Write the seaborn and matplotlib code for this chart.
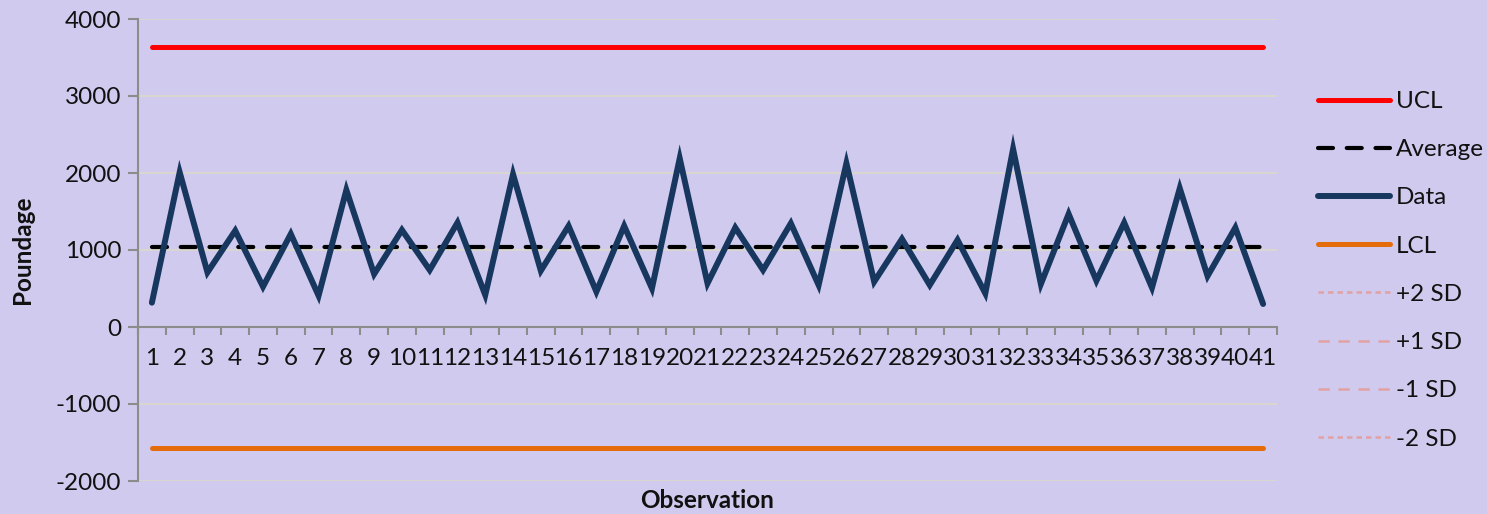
import numpy as np
import pandas as pd
import matplotlib
matplotlib.use("Agg")
import matplotlib.pyplot as plt
import seaborn as sns

# Observations and measured poundage
observations = list(range(1, 42))
poundage = [316, 2009, 710, 1251, 524, 1208, 407, 1779, 688, 1260,
            740, 1355, 416, 1983, 731, 1312, 459, 1312, 502, 2190,
            567, 1290, 740, 1346, 545, 2126, 588, 1143, 545, 1130,
            437, 2312, 558, 1468, 601, 1355, 511, 1801, 662, 1290,
            299]

# Control limits
ucl_value = 3640
average_value = 1035
lcl_value = -1570

y_ticks = [-2000, -1000, 0, 1000, 2000, 3000, 4000]

bg = "#D0CAEE"
sns.set_theme(style="white")
plt.rcParams["font.family"] = ["Lato", "DejaVu Sans"]
plt.rcParams["axes.unicode_minus"] = False

df = pd.DataFrame({
    "Observation": observations,
    "Data": poundage,
    "UCL": [ucl_value] * len(observations),
    "Average": [average_value] * len(observations),
    "LCL": [lcl_value] * len(observations),
})

fig = plt.figure(figsize=(14.87, 5.14), dpi=100, facecolor=bg)
ax = fig.add_axes([138 / 1487, 1 - 481 / 514, (1277 - 138) / 1487, (481 - 19) / 514])
ax.set_facecolor(bg)

ax.set_ylim(-2000, 4000)
ax.set_xlim(0.5, len(observations) + 0.5)
ax.set_yticks(y_ticks)
ax.yaxis.grid(True, color="#DAD8CC", linewidth=1.3)
ax.set_axisbelow(True)

avg_dash = (0, (3.6, 3.3))

sns.lineplot(data=df, x="Observation", y="UCL", ax=ax, color="#FF0000",
             linewidth=3.6, solid_capstyle="round", label="UCL")
sns.lineplot(data=df, x="Observation", y="Average", ax=ax, color="#000000",
             linewidth=3.0, label="Average")
ax.lines[-1].set_linestyle(avg_dash)
ax.lines[-1].set_dash_capstyle("round")
sns.lineplot(data=df, x="Observation", y="Data", ax=ax, color="#17375E",
             linewidth=4.3, solid_capstyle="round", solid_joinstyle="miter",
             label="Data")
sns.lineplot(data=df, x="Observation", y="LCL", ax=ax, color="#E46C0A",
             linewidth=3.6, solid_capstyle="round", label="LCL")

# Sigma band lines (no values plotted)
sd_color = "#E2A2A4"
ax.plot([], [], color=sd_color, linewidth=1.8, linestyle=(0, (2.2, 1.6)), label="+2 SD")
ax.plot([], [], color=sd_color, linewidth=1.8, linestyle=(0, (4.5, 3.5)), label="+1 SD")
ax.plot([], [], color=sd_color, linewidth=1.8, linestyle=(0, (4.5, 3.5)), label="-1 SD")
ax.plot([], [], color=sd_color, linewidth=1.8, linestyle=(0, (2.2, 1.6)), label="-2 SD")

# Axes styling
for side in ["top", "right"]:
    ax.spines[side].set_visible(False)
ax.spines["left"].set_color("#8C8C8C")
ax.spines["left"].set_linewidth(1.5)
ax.spines["bottom"].set_color("#8C8C8C")
ax.spines["bottom"].set_linewidth(1.5)
ax.spines["bottom"].set_position(("data", 0))

# Category boundaries get tick marks, categories get labels
ax.set_xticks(np.arange(0.5, len(observations) + 1, 1.0))
ax.set_xticklabels([])
ax.set_xticks(observations, minor=True)
ax.set_xticklabels([str(o) for o in observations], minor=True)
ax.tick_params(axis="x", which="major", direction="out", length=6, width=1.5,
               color="#8C8C8C", bottom=True)
ax.tick_params(axis="x", which="minor", length=0, pad=15, labelsize=17.5,
               labelcolor="#111111")
ax.tick_params(axis="y", direction="out", length=7, width=1.5, color="#8C8C8C",
               left=True, labelsize=17.5, labelcolor="#111111", pad=5)

ax.set_xlabel("")
ax.set_ylabel("Poundage", fontsize=17.5, fontweight="bold", color="#111111")
ax.yaxis.set_label_coords((34 - 138) / 1139, 0.5)
fig.text((138 + 1277) / 2 / 1487, 1 - 500 / 514, "Observation", ha="center", va="center",
         fontsize=17.5, fontweight="bold", color="#111111")

leg = ax.legend(loc="upper left", bbox_to_anchor=(1318 / 1487, 1 - 91 / 514),
                bbox_transform=fig.transFigure, frameon=False, fontsize=17.5,
                handlelength=2.96, handletextpad=0.25, labelspacing=1.12,
                borderpad=0, borderaxespad=0)
for t in leg.get_texts():
    t.set_color("#111111")

fig.savefig("out.png", dpi=100, facecolor=bg)
